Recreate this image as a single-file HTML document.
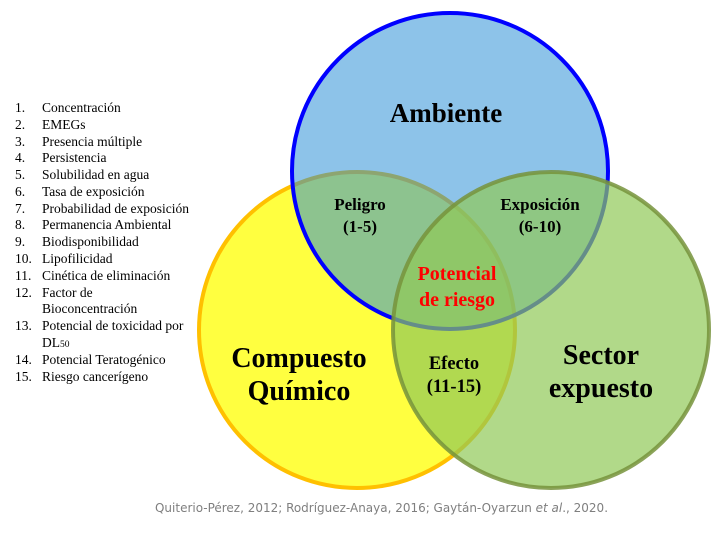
<!DOCTYPE html>
<html><head><meta charset="utf-8"><style>
body{margin:0;background:#fff;width:728px;height:539px;overflow:hidden;font-family:"Liberation Serif",serif}
.l{position:absolute;left:0;top:0}
</style></head><body>
<svg width="728" height="539" class="l" xmlns="http://www.w3.org/2000/svg">
<circle cx="357" cy="330" r="158" fill="#ffff40" stroke="#ffc000" stroke-width="4"/>
<circle cx="450" cy="171" r="158" fill="rgb(40,141,213)" fill-opacity="0.53" stroke="#0000ff" stroke-width="4"/>
<circle cx="551" cy="330" r="158" fill="rgb(144,201,87)" fill-opacity="0.7" stroke="#77933c" stroke-width="4" stroke-opacity="0.85"/>
<g font-family="Liberation Serif, serif" font-weight="bold" text-anchor="middle" fill="#000">
<text x="446" y="122" font-size="27">Ambiente</text>
<text x="299" y="367" font-size="28">Compuesto</text>
<text x="299" y="400" font-size="28">Químico</text>
<text x="601" y="364" font-size="28">Sector</text>
<text x="601" y="397" font-size="28">expuesto</text>
<text x="360" y="210" font-size="17">Peligro</text>
<text x="360" y="232" font-size="17">(1-5)</text>
<text x="540" y="210" font-size="17">Exposición</text>
<text x="540" y="232" font-size="17">(6-10)</text>
<text x="457" y="280" font-size="20" fill="#ff0000">Potencial</text>
<text x="457" y="306" font-size="20" fill="#ff0000">de riesgo</text>
<text x="454" y="369" font-size="18.5">Efecto</text>
<text x="454" y="392" font-size="18.5">(11-15)</text>
</g>
<text x="155" y="512" font-family="DejaVu Sans, sans-serif" font-size="12" fill="#7f7f7f" textLength="453" lengthAdjust="spacingAndGlyphs">Quiterio-Pérez, 2012; Rodríguez-Anaya, 2016; Gaytán-Oyarzun <tspan font-style="italic">et al</tspan>., 2020.</text>
<g font-family="Liberation Serif, serif" font-size="13.5" fill="#000">
<text x="15" y="112">1.</text><text x="42" y="112">Concentración</text>
<text x="15" y="129">2.</text><text x="42" y="129">EMEGs</text>
<text x="15" y="146">3.</text><text x="42" y="146">Presencia múltiple</text>
<text x="15" y="162">4.</text><text x="42" y="162">Persistencia</text>
<text x="15" y="179">5.</text><text x="42" y="179">Solubilidad en agua</text>
<text x="15" y="196">6.</text><text x="42" y="196">Tasa de exposición</text>
<text x="15" y="213">7.</text><text x="42" y="213">Probabilidad de exposición</text>
<text x="15" y="229">8.</text><text x="42" y="229">Permanencia Ambiental</text>
<text x="15" y="246">9.</text><text x="42" y="246">Biodisponibilidad</text>
<text x="15" y="263">10.</text><text x="42" y="263">Lipofilicidad</text>
<text x="15" y="280">11.</text><text x="42" y="280">Cinética de eliminación</text>
<text x="15" y="297">12.</text><text x="42" y="297">Factor de</text>
<text x="42" y="313">Bioconcentración</text>
<text x="15" y="330">13.</text><text x="42" y="330">Potencial de toxicidad por</text>
<text x="42" y="347">DL<tspan font-size="9.5">50</tspan></text>
<text x="15" y="364">14.</text><text x="42" y="364">Potencial Teratogénico</text>
<text x="15" y="381">15.</text><text x="42" y="381">Riesgo cancerígeno</text>
</g>
</svg>
</body></html>
